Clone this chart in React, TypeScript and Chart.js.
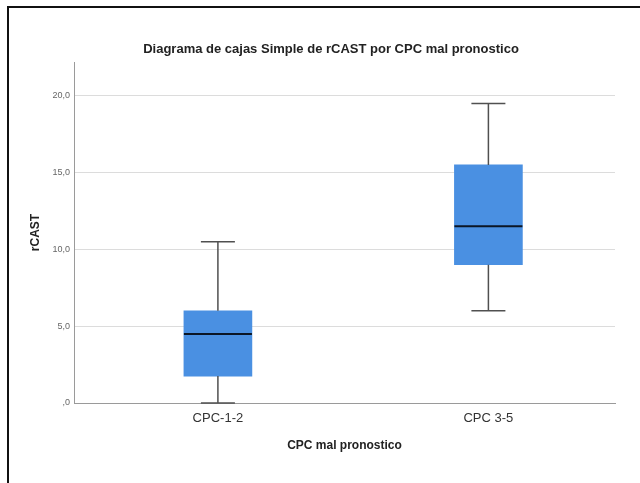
import React, { useEffect, useRef } from 'react';
import { Chart, registerables } from 'chart.js';

Chart.register(...registerables);

// ---- data ----
const categories = ['CPC-1-2', 'CPC 3-5'];
const mins = [0, 6.0];
const q1s = [1.75, 9.0];
const medians = [4.5, 11.5];
const q3s = [6.0, 15.5];
const maxs = [10.5, 19.5];
const yTicks = [0, 5, 10, 15, 20];
const yTickLabels = [',0', '5,0', '10,0', '15,0', '20,0'];
const chartTitle = 'Diagrama de cajas Simple de rCAST por CPC mal pronostico';
const xTitle = 'CPC mal pronostico';
const yTitle = 'rCAST';

const FONT = "'Liberation Sans', Arial, Helvetica, sans-serif";

const boxPlugin = {
  id: 'boxWhiskers',
  afterDatasetsDraw(chart: any) {
    const { ctx } = chart;
    const xs = chart.scales.x;
    const ys = chart.scales.y;
    const meta = chart.getDatasetMeta(0);
    ctx.save();
    categories.forEach((_, i) => {
      const bar = meta.data[i] as any;
      const cx = xs.getPixelForValue(i);
      const half = bar.width / 2;
      const cap = half / 2;
      const yMax = ys.getPixelForValue(maxs[i]);
      const yMin = ys.getPixelForValue(mins[i]);
      const yQ1 = ys.getPixelForValue(q1s[i]);
      const yQ3 = ys.getPixelForValue(q3s[i]);
      const yMed = ys.getPixelForValue(medians[i]);
      ctx.strokeStyle = '#505050';
      ctx.lineWidth = 1.5;
      ctx.beginPath();
      ctx.moveTo(cx, yQ3);
      ctx.lineTo(cx, yMax);
      ctx.moveTo(cx, yQ1);
      ctx.lineTo(cx, yMin);
      ctx.moveTo(cx - cap, yMax);
      ctx.lineTo(cx + cap, yMax);
      ctx.moveTo(cx - cap, yMin);
      ctx.lineTo(cx + cap, yMin);
      ctx.stroke();
      ctx.strokeStyle = '#0b1626';
      ctx.lineWidth = 2;
      ctx.beginPath();
      ctx.moveTo(cx - half, yMed);
      ctx.lineTo(cx + half, yMed);
      ctx.stroke();
    });
    ctx.restore();
  },
};

export default function App() {
  const ref = useRef<HTMLCanvasElement | null>(null);

  useEffect(() => {
    if (!ref.current) return;
    const chart = new Chart(ref.current, {
      type: 'bar',
      data: {
        datasets: [
          {
            data: categories.map((_, i) => ({ x: i, y: [q1s[i], q3s[i]] })) as any,
            backgroundColor: 'rgb(74,144,226)',
            borderWidth: 0,
            barThickness: 68,
          },
        ],
      },
      options: {
        responsive: false,
        animation: false,
        layout: { padding: { left: 22, right: 0, top: 0, bottom: 0 } },
        plugins: {
          legend: { display: false },
          tooltip: { enabled: false },
          title: {
            display: true,
            text: chartTitle,
            color: '#222',
            font: { family: FONT, size: 13, weight: 'bold' },
            padding: { top: 42, bottom: 4.4 },
          },
        },
        scales: {
          x: {
            type: 'linear',
            offset: false,
            min: -0.532,
            max: 1.468,
            afterBuildTicks: (s: any) => {
              s.ticks = categories.map((_, i) => ({ value: i }));
            },
            afterFit: (s: any) => {
              s.height = 80;
            },
            grid: { display: false, drawTicks: false },
            border: { display: true, color: '#9a9a9a', width: 1 },
            ticks: {
              autoSkip: false,
              maxRotation: 0,
              padding: 8,
              color: '#333',
              font: { family: FONT, size: 13 },
              callback: (_v: any, idx: number) => categories[idx],
            },
            title: {
              display: true,
              text: xTitle,
              color: '#222',
              font: { family: FONT, size: 12, weight: 'bold' },
              padding: { top: 4, bottom: 30 },
            },
          },
          y: {
            type: 'linear',
            min: 0,
            max: 22.2,
            afterBuildTicks: (s: any) => {
              s.ticks = yTicks.map((v) => ({ value: v }));
            },
            afterFit: (s: any) => {
              s.width = 52;
            },
            grid: { color: '#dcdcdc', lineWidth: 1, drawTicks: false },
            border: { display: true, color: '#9a9a9a', width: 1 },
            ticks: {
              padding: 4,
              color: '#666',
              font: { family: FONT, size: 9 },
              callback: (_v: any, idx: number) => yTickLabels[idx],
            },
            title: {
              display: true,
              text: yTitle,
              color: '#222',
              font: { family: FONT, size: 12, weight: 'bold' },
              padding: { top: 6, bottom: 0 },
            },
          },
          yR: {
            type: 'linear',
            position: 'right',
            display: true,
            grid: { display: false, drawTicks: false },
            border: { display: false },
            ticks: { display: false },
            afterFit: (s: any) => {
              s.width = 25;
            },
          },
        },
      },
      plugins: [boxPlugin],
    } as any);
    return () => chart.destroy();
  }, []);

  return (
    <div
      style={{
        position: 'fixed',
        left: 0,
        top: 0,
        width: 640,
        height: 483,
        background: '#fff',
        overflow: 'hidden',
      }}
    >
      <canvas ref={ref} width={640} height={483} style={{ display: 'block', width: 640, height: 483 }} />
      <div
        style={{
          position: 'absolute',
          left: 7,
          top: 6,
          right: -10,
          bottom: -10,
          borderTop: '2px solid #111',
          borderLeft: '2px solid #111',
          pointerEvents: 'none',
        }}
      />
    </div>
  );
}
